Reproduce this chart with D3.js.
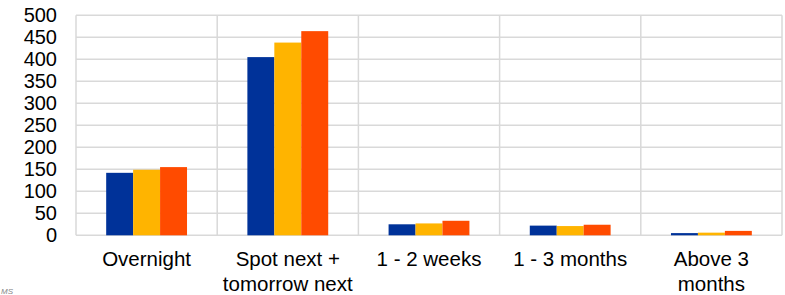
<!DOCTYPE html>
<html><head><meta charset="utf-8">
<script src="https://cdn.jsdelivr.net/npm/d3@7/dist/d3.min.js"></script>
<style>body{margin:0;background:#fff}svg{display:block}</style>
</head><body>
<svg id="chart" width="785" height="295"></svg>
<script>
const categories = [["Overnight"], ["Spot next +", "tomorrow next"], ["1 - 2 weeks"], ["1 - 3 months"], ["Above 3", "months"]];
const seriesNames = ["Series 1", "Series 2", "Series 3"];
const seriesA = [142, 405, 25, 22, 5];
const seriesB = [149, 438, 27, 21, 6];
const seriesC = [155, 464, 33, 24, 10];
const yTicks = [0, 50, 100, 150, 200, 250, 300, 350, 400, 450, 500];
const colors = ["#003299", "#FFB400", "#FF4B00"];

const svg = d3.select("#chart");
const m = {left: 76, right: 782, top: 15.3, bottom: 235.3};
const keys = categories.map((c, i) => i);
const x = d3.scaleBand().domain(keys).range([m.left, m.right]).paddingInner(0).paddingOuter(0);
const x1 = d3.scaleBand().domain([0, 1, 2]).range([0, x.bandwidth()]).paddingOuter(1.12).paddingInner(0);
const y = d3.scaleLinear().domain([0, 500]).range([m.bottom, m.top]);
const font = "'Liberation Sans', Arial, sans-serif";

// gridlines
svg.append("g").selectAll("line").data(yTicks).join("line")
  .attr("x1", m.left).attr("x2", m.right)
  .attr("y1", d => y(d)).attr("y2", d => y(d))
  .attr("stroke", "#d9d9d9").attr("stroke-width", 1.5);
const bounds = keys.map(k => x(k)).concat([m.right]);
svg.append("g").selectAll("line").data(bounds).join("line")
  .attr("x1", d => d).attr("x2", d => d)
  .attr("y1", m.top).attr("y2", m.bottom)
  .attr("stroke", "#d9d9d9").attr("stroke-width", 1.5);

// bars
const series = [seriesA, seriesB, seriesC];
series.forEach((vals, s) => {
  svg.append("g").selectAll("rect").data(vals).join("rect")
    .attr("x", (d, i) => x(i) + x1(s))
    .attr("width", x1.bandwidth())
    .attr("y", d => y(d))
    .attr("height", d => y(0) - y(d))
    .attr("fill", colors[s]);
});

// y axis labels
const yAxis = d3.axisLeft(y).tickValues(yTicks).tickSize(0).tickPadding(0);
const ya = svg.append("g").attr("transform", `translate(57,0)`).call(yAxis);
ya.select(".domain").remove();
ya.selectAll("text").attr("font-family", font).attr("font-size", 20).attr("fill", "#000");

// x axis labels
const xa = svg.append("g");
categories.forEach((lines, i) => {
  const t = xa.append("text").attr("text-anchor", "middle")
    .attr("font-family", font).attr("font-size", 20.5).attr("fill", "#000");
  lines.forEach((ln, j) => {
    t.append("tspan").attr("x", x(i) + x.bandwidth() / 2).attr("y", 266 + j * 24.5).text(ln);
  });
});

// footnote fragment
svg.append("text").attr("x", 1).attr("y", 294).attr("font-family", font)
  .attr("font-size", 8).attr("font-style", "italic").attr("fill", "#888").text("MS");
</script>
</body></html>
